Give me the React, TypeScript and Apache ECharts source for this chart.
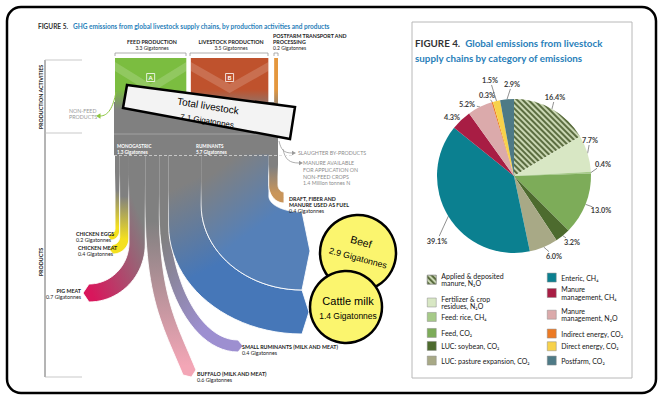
import React, { useEffect, useRef } from 'react';
import * as echarts from 'echarts';

// ---------------- data ----------------
const activityNames = ['FEED PRODUCTION', 'LIVESTOCK PRODUCTION', 'POSTFARM TRANSPORT AND PROCESSING'];
const activityValues = [3.3, 3.5, 0.2];
const groupNames = ['MONOGASTRIC', 'RUMINANTS'];
const groupValues = [1.3, 5.7];
const productNames = [
  'CHICKEN EGGS',
  'CHICKEN MEAT',
  'PIG MEAT',
  'BUFFALO (MILK AND MEAT)',
  'SMALL RUMINANTS (MILK AND MEAT)',
  'Cattle milk',
  'Beef',
  'DRAFT, FIBER AND MANURE USED AS FUEL',
];
const productValues = [0.2, 0.4, 0.7, 0.6, 0.4, 1.4, 2.9, 0.4];
const totalLivestock = 7.1;
const manureAvailableMtN = 1.4;

const categoryNames = [
  'Applied & deposited manure, N₂O',
  'Fertilizer & crop residues, N₂O',
  'Feed: rice, CH₄',
  'Feed, CO₂',
  'LUC: soybean, CO₂',
  'LUC: pasture expansion, CO₂',
  'Enteric, CH₄',
  'Manure management, CH₄',
  'Manure management, N₂O',
  'Indirect energy, CO₂',
  'Direct energy, CO₂',
  'Postfarm, CO₂',
];
const categoryShares = [16.4, 7.7, 0.4, 13.0, 3.2, 6.0, 39.1, 4.3, 5.2, 0.3, 1.5, 2.9];

// ---------------- styles / layout ----------------
const F = 'Lato, "Open Sans", "DejaVu Sans", sans-serif';
const A = '"Liberation Sans", Arial, sans-serif';
const GRAY = '#808080';
const BLUE_T = '#2a7fba';
const PIE_C = [514, 176];
const PIE_R = 77;

const categoryColors = ['#c9d6b2', '#d8e7c4', '#a6ca88', '#7dac59', '#4d6b2e', '#a8a986', '#0b8090', '#a81d44', '#dbaaab', '#ec7a24', '#f7d24b', '#4e7a86'];
const legendBreaks: Record<string, string> = {
  'Applied & deposited manure, N₂O': 'Applied & deposited\nmanure, N₂O',
  'Fertilizer & crop residues, N₂O': 'Fertilizer & crop\nresidues, N₂O',
  'Manure management, CH₄': 'Manure\nmanagement, CH₄',
  'Manure management, N₂O': 'Manure\nmanagement, N₂O',
};
const legendPos = [
  [427, 272.2], [427, 295], [427, 312.2], [427, 328.2], [427, 341.2], [427, 355.8],
  [547, 272.8], [547, 285.5], [547, 307.2], [547, 328.8], [547, 341.5], [547, 355.8],
];
// pie label centres (layout)
const pieLabelPos = [
  [555, 97], [590, 140], [603, 164], [601, 210], [572, 242], [554, 256],
  [437, 241], [452, 117], [467, 104], [487, 95], [490, 80], [512, 84],
];

const activityStyle = [
  { color: '#7bbd40', letter: 'A', inset: [0, 5.5] },
  { color: '#bf522d', letter: 'B', inset: [-1, 5] },
  { color: '#e4973e', letter: '', inset: [0.8, 0] },
];

// band geometry: edge a (left) / edge b (right): [y where curve starts, end x, end y]
const bandShape = [
  { a: [229, 111, 233.5], b: [230, 111, 240], t: [-1, 0], tip: 3, color: '#f4e01e', g: [0, 0, 0, 1], s: 0.42, e: 0.85 },
  { a: [237, 113, 244.5], b: [238, 113, 254], t: [-1, 0], tip: 4, color: '#f4e01e', g: [0, 0, 0, 1], s: 0.42, e: 0.85 },
  { a: [243, 89, 284], b: [244, 89, 302], t: [-1, 0], tip: 6, color: '#d8175c', g: [1, 0, 0, 1], s: 0.25, e: 0.9 },
  { a: [205, 183, 375], b: [205, 196, 370], t: [0.38, 0.92], tip: 5, color: '#f3a6b6', g: [0, 0, 0, 1], s: 0.3, e: 0.95 },
  { a: [215, 238, 352], b: [205, 238, 340], t: [1, 0], tip: 5, color: '#9d8fd0', g: [0, 0, 0.5, 1], s: 0.35, e: 0.92 },
  { a: [225, 302, 334], b: [205, 302, 290], t: [1, 0], tip: 7, color: '#4677b8', g: [0, 0, 0.4, 1], s: 0.18, e: 0.65 },
  { a: [205, 302, 290], b: [196, 302, 212], t: [1, 0], tip: 8, color: '#5580b8', g: [0, 0, 0.6, 1], s: 0.15, e: 0.62 },
  { a: [185, 284, 203], b: [185, 284, 192], t: [1, 0], tip: 0, color: '#c9955a', g: [0, 0, 0, 1], s: 0.25, e: 0.8 },
];

function edge(e: number, top: number, spec: number[], t: number[]) {
  const [yc, ex, ey] = spec;
  const k = 0.55;
  const p0 = [e, yc];
  const p1 = [e, yc + k * (ey - yc)];
  const l2 = (k * Math.abs(ex - e)) / Math.max(Math.abs(t[0]), 0.35);
  const p2 = [ex - t[0] * l2, ey - t[1] * l2];
  const p3 = [ex, ey];
  const pts: number[][] = [[e, top]];
  const n = 24;
  for (let i = 0; i <= n; i++) {
    const s = i / n;
    const m = 1 - s;
    const c0 = m * m * m, c1 = 3 * m * m * s, c2 = 3 * m * s * s, c3 = s * s * s;
    pts.push([
      c0 * p0[0] + c1 * p1[0] + c2 * p2[0] + c3 * p3[0],
      c0 * p0[1] + c1 * p1[1] + c2 * p2[1] + c3 * p3[1],
    ]);
  }
  return pts;
}

function cumulative(vals: number[]) {
  const out: number[] = [];
  let c = 0;
  vals.forEach((v) => {
    out.push(c);
    c += v;
  });
  return out;
}

function txt(text: string, x: number, y: number, o: any = {}) {
  return {
    type: 'text',
    x,
    y,
    z: o.z ?? 50,
    rotation: o.rot ?? 0,
    silent: true,
    style: {
      text,
      fontSize: o.size ?? 5.5,
      fontWeight: o.bold ? 'bold' : 'normal',
      fill: o.color ?? '#222',
      align: o.align ?? 'left',
      verticalAlign: o.va ?? 'middle',
      fontFamily: o.font ?? F,
      lineHeight: o.lh ?? 6.3,
      rich: o.rich,
    },
  };
}

function productLabel(i: number, x: number, y: number, align = 'left', display?: string) {
  const name = (display ?? productNames[i]).split('\n').map((l) => `{b|${l}}`).join('\n');
  return txt(`${name}\n{n|${productValues[i].toFixed(1)} Gigatonnes}`, x, y - 3, {
    align,
    va: 'top',
    rich: {
      b: { fontWeight: 'bold', fontSize: 5.3, lineHeight: 6, fill: '#222', fontFamily: F },
      n: { fontSize: 5.3, lineHeight: 6, fill: '#222', fontFamily: F },
    },
  });
}

function buildOption() {
  const total = productValues.reduce((a, b) => a + b, 0);
  const actCum = cumulative(activityValues);
  const prodCum = cumulative(productValues);
  const shareTotal = categoryShares.reduce((a, b) => a + b, 0);
  const shareCum = cumulative(categoryShares);

  const activityData = [[0, total, -1], ...activityValues.map((v, i) => [actCum[i], actCum[i] + v, i])];
  const productData = productValues.map((v, i) => [prodCum[i], prodCum[i] + v, i]);

  const activitySeries = {
    type: 'custom',
    coordinateSystem: 'cartesian2d',
    clip: false,
    silent: true,
    z: 2,
    data: activityData,
    renderItem: (params: any, api: any) => {
      const i = api.value(2);
      const x0 = api.coord([api.value(0), 0])[0];
      const x1 = api.coord([api.value(1), 0])[0];
      if (i < 0) {
        return { type: 'rect', shape: { x: x0 - 1, y: 102, width: x1 - x0 + 1, height: 53 }, style: { fill: GRAY } };
      }
      const st = activityStyle[i];
      const L = x0 + st.inset[0];
      const R = x1 - st.inset[1];
      const C = (L + R) / 2;
      const children: any[] = [
        {
          type: 'rect',
          shape: { x: L, y: 58, width: R - L, height: 52 },
          style: {
            fill: new echarts.graphic.LinearGradient(0, 0, 0, 1, [
              { offset: 0, color: st.color },
              { offset: 0.6, color: st.color },
              { offset: 1, color: GRAY },
            ]),
          },
        },
      ];
      if (st.letter) {
        children.push({
          type: 'polygon',
          shape: { points: [[L, 62], [C, 84], [R, 62], [R, 71], [C, 93], [L, 71]] },
          style: { fill: 'rgba(255,255,255,0.17)' },
        });
        children.push({ type: 'rect', shape: { x: C - 4, y: 73.5, width: 8, height: 8 }, style: { fill: 'none', stroke: '#fff', lineWidth: 0.8 } });
        children.push({
          type: 'text',
          x: C,
          y: 77.8,
          style: { text: st.letter, fontSize: 6, fontWeight: 'bold', fill: '#fff', align: 'center', verticalAlign: 'middle', fontFamily: F },
        });
      }
      return { type: 'group', children };
    },
  };

  const productSeries = {
    type: 'custom',
    coordinateSystem: 'cartesian2d',
    clip: false,
    silent: true,
    z: 3,
    data: productData,
    renderItem: (params: any, api: any) => {
      const i = api.value(2);
      const xa = api.coord([api.value(0), 0])[0];
      const xb = api.coord([api.value(1), 0])[0];
      const sh = bandShape[i];
      const top = 154.5;
      const ea = edge(xa, top, sh.a, sh.t);
      const eb = edge(xb, top, sh.b, sh.t);
      const endA = ea[ea.length - 1];
      const endB = eb[eb.length - 1];
      const tip = [(endA[0] + endB[0]) / 2 + sh.t[0] * sh.tip, (endA[1] + endB[1]) / 2 + sh.t[1] * sh.tip];
      const pts = [...ea, tip, ...eb.reverse()];
      return {
        type: 'polygon',
        shape: { points: pts },
        style: {
          fill: new echarts.graphic.LinearGradient(sh.g[0], sh.g[1], sh.g[2], sh.g[3], [
            { offset: 0, color: GRAY },
            { offset: sh.s, color: GRAY },
            { offset: sh.e, color: sh.color },
            { offset: 1, color: sh.color },
          ]),
          stroke: new echarts.graphic.LinearGradient(0, 0, 0, 1, [
            { offset: 0, color: 'rgba(255,255,255,0)' },
            { offset: 0.2, color: 'rgba(255,255,255,0)' },
            { offset: 0.45, color: 'rgba(255,255,255,1)' },
            { offset: 1, color: 'rgba(255,255,255,1)' },
          ]),
          lineWidth: 0.9,
        },
      };
    },
  };

  const pieSeries = {
    type: 'pie',
    center: PIE_C,
    radius: PIE_R,
    startAngle: 90,
    clockwise: true,
    avoidLabelOverlap: false,
    emphasis: { disabled: true },
    data: categoryNames.map((n, i) => ({
      name: n,
      value: categoryShares[i],
      itemStyle:
        i === 0
          ? {
              color: categoryColors[i],
              decal: {
                symbol: 'rect',
                symbolSize: 1,
                dashArrayX: [1, 0],
                dashArrayY: [1.6, 1.8],
                rotation: Math.PI / 4,
                color: '#5b6d40',
              },
            }
          : { color: categoryColors[i] },
    })),
    label: {
      show: true,
      formatter: (p: any) => `${Number(p.value).toFixed(1)}%`,
      fontSize: 7.3,
      fontWeight: 'bold',
      color: '#3c3c3c',
      fontFamily: F,
    },
    labelLine: { show: true, length: 8, length2: 2, lineStyle: { color: '#444', width: 0.6 } },
    labelLayout: (params: any) => {
      const i = params.dataIndex;
      const [lx, ly] = pieLabelPos[i];
      const f = ((shareCum[i] + categoryShares[i] / 2) / shareTotal) * Math.PI * 2;
      const p0 = [PIE_C[0] + PIE_R * Math.sin(f), PIE_C[1] - PIE_R * Math.cos(f)];
      const dx = p0[0] - lx;
      const dy = p0[1] - ly;
      const d = Math.hypot(dx, dy) || 1;
      const ux = dx / d;
      const uy = dy / d;
      const off = 1 / Math.sqrt((ux / 11) ** 2 + (uy / 5) ** 2);
      const p2 = [lx + ux * Math.min(off, d), ly + uy * Math.min(off, d)];
      const mid = [(p0[0] + p2[0]) / 2, (p0[1] + p2[1]) / 2];
      return {
        x: lx,
        y: ly,
        align: 'center',
        verticalAlign: 'middle',
        labelLinePoints: [p0, mid, p2],
      };
    },
  };

  const legends = categoryNames.map((n, i) => ({
    data: [n],
    left: legendPos[i][0],
    top: legendPos[i][1],
    orient: 'vertical',
    padding: 0,
    itemGap: 0,
    itemWidth: 9,
    itemHeight: 9,
    icon: 'rect',
    selectedMode: false,
    formatter: (name: string) => legendBreaks[name] ?? name,
    itemStyle: { borderColor: '#8a8a8a', borderWidth: 0.5 },
    textStyle: { fontSize: 7, lineHeight: 7.5, color: '#151515', fontFamily: F },
  }));

  const graphic: any[] = [
    // outer frame
    { type: 'rect', z: 300, silent: true, shape: { x: 7, y: 7, width: 649, height: 386, r: 14 }, style: { fill: 'none', stroke: '#000', lineWidth: 2.5 } },
    // figure 4 box
    { type: 'rect', z: 1, silent: true, shape: { x: 412, y: 22, width: 220, height: 356 }, style: { fill: 'none', stroke: '#b8b8b8', lineWidth: 1 } },
    // left axis
    { type: 'line', z: 1, silent: true, shape: { x1: 45, y1: 60, x2: 45, y2: 377 }, style: { stroke: '#444', lineWidth: 0.8 } },
    { type: 'line', z: 1, silent: true, shape: { x1: 45, y1: 60, x2: 82, y2: 60 }, style: { stroke: '#bbb', lineWidth: 0.8 } },
    { type: 'line', z: 1, silent: true, shape: { x1: 45, y1: 133, x2: 82, y2: 133 }, style: { stroke: '#bbb', lineWidth: 0.8 } },
    { type: 'line', z: 1, silent: true, shape: { x1: 45, y1: 377, x2: 82, y2: 377 }, style: { stroke: '#bbb', lineWidth: 0.8 } },
    txt('PRODUCTION ACTIVITIES', 41, 97, { rot: Math.PI / 2, bold: true, align: 'center', size: 5.3 }),
    txt('PRODUCTS', 41, 262, { rot: Math.PI / 2, bold: true, align: 'center', size: 5.3 }),
    // headers
    txt(activityNames[0], 152, 42, { bold: true, align: 'center', size: 5.3 }),
    txt(`${activityValues[0]} Gigatonnes`, 152, 48, { align: 'center', size: 5 }),
    txt(activityNames[1], 231, 42, { bold: true, align: 'center', size: 5.3 }),
    txt(`${activityValues[1]} Gigatonnes`, 231, 48, { align: 'center', size: 5 }),
    txt('POSTFARM TRANSPORT AND\nPROCESSING', 273, 33, { bold: true, va: 'top', size: 5.3, lh: 6 }),
    txt(`${activityValues[2]} Gigatonnes`, 273, 48, { size: 5 }),
    { type: 'polyline', z: 1, silent: true, shape: { points: [[115, 56], [115, 53], [186, 53], [186, 56]] }, style: { stroke: '#999', lineWidth: 0.8, fill: 'none' } },
    { type: 'polyline', z: 1, silent: true, shape: { points: [[190, 56], [190, 53], [268, 53], [268, 56]] }, style: { stroke: '#999', lineWidth: 0.8, fill: 'none' } },
    { type: 'polyline', z: 1, silent: true, shape: { points: [[274, 56], [274, 53], [278, 53], [278, 56]] }, style: { stroke: '#999', lineWidth: 0.8, fill: 'none' } },
    // non-feed arrow
    { type: 'bezierCurve', z: 5, silent: true, shape: { x1: 116, y1: 92, cpx1: 113, cpy1: 108, cpx2: 108, cpy2: 116, x2: 100, y2: 116 }, style: { stroke: '#8dc63f', lineWidth: 1, fill: 'none' } },
    { type: 'polygon', z: 5, silent: true, shape: { points: [[96, 116], [100.5, 113.3], [100.5, 118.7]] }, style: { fill: '#8dc63f' } },
    txt('NON-FEED\nPRODUCTS', 69, 114, { color: '#999', size: 5.3, lh: 6 }),
    // separation lines in gray
    { type: 'line', z: 50, silent: true, shape: { x1: 114, y1: 134, x2: 278, y2: 134 }, style: { stroke: '#a9a9a9', lineWidth: 0.8 } },
    { type: 'line', z: 50, silent: true, shape: { x1: 114, y1: 155.5, x2: 292, y2: 155.5 }, style: { stroke: '#d9d9d9', lineWidth: 0.8, lineDash: [3, 2] } },
    txt(`${groupNames[0]}\n${groupValues[0]} Gigatonnes`, 117, 142.5, { color: '#fff', va: 'top', size: 4.6, lh: 6, bold: true }),
    txt(`${groupNames[1]}\n${groupValues[1]} Gigatonnes`, 196, 142.5, { color: '#fff', va: 'top', size: 4.6, lh: 6, bold: true }),
    // by-product arrows
    { type: 'bezierCurve', z: 5, silent: true, shape: { x1: 279, y1: 141, cpx1: 281, cpy1: 150, cpx2: 284, cpy2: 153, x2: 292, y2: 153 }, style: { stroke: '#9a9a9a', lineWidth: 0.8, fill: 'none' } },
    { type: 'polygon', z: 5, silent: true, shape: { points: [[296, 153], [292, 150.8], [292, 155.2]] }, style: { fill: '#9a9a9a' } },
    { type: 'bezierCurve', z: 5, silent: true, shape: { x1: 283, y1: 149, cpx1: 285, cpy1: 160, cpx2: 290, cpy2: 163, x2: 299, y2: 163 }, style: { stroke: '#9a9a9a', lineWidth: 0.8, fill: 'none' } },
    { type: 'polygon', z: 5, silent: true, shape: { points: [[303, 163], [299, 160.8], [299, 165.2]] }, style: { fill: '#9a9a9a' } },
    txt('SLAUGHTER BY-PRODUCTS', 298, 153, { color: '#8c8c8c', size: 5.3 }),
    txt(`MANURE AVAILABLE\nFOR APPLICATION ON\nNON-FEED CROPS\n${manureAvailableMtN} Million tonnes N`, 303, 160, { color: '#8c8c8c', size: 5.3, va: 'top', lh: 6.7 }),
    // product labels
    productLabel(0, 76, 234),
    productLabel(1, 78, 248),
    productLabel(2, 81, 291, 'right'),
    productLabel(3, 197, 374),
    productLabel(4, 242, 347),
    productLabel(7, 289, 199, 'left', 'DRAFT, FIBER AND\nMANURE USED AS FUEL'),
    // total livestock box
    { type: 'polygon', z: 100, silent: true, shape: { points: [[127, 85], [295, 107], [290, 139], [123, 108]] }, style: { fill: '#f3f3f3', stroke: '#000', lineWidth: 2.5, lineJoin: 'miter' } },
    txt('Total livestock', 208, 106, { z: 101, rot: -0.16, size: 10, font: A, color: '#000', align: 'center' }),
    txt(`${totalLivestock} Gigatonnes`, 207, 121, { z: 101, rot: -0.16, size: 8, font: A, color: '#000', align: 'center' }),
    // beef circle
    { type: 'circle', z: 102, silent: true, shape: { cx: 358, cy: 253, r: 38 }, style: { fill: '#fbf56e', stroke: '#000', lineWidth: 2.5 } },
    txt(productNames[6], 361, 242, { z: 103, rot: -0.26, size: 10.5, font: A, color: '#000', align: 'center' }),
    txt(`${productValues[6]} Gigatonnes`, 358, 258, { z: 103, rot: -0.26, size: 8.8, font: A, color: '#000', align: 'center' }),
    // cattle milk circle
    { type: 'circle', z: 104, silent: true, shape: { cx: 346, cy: 307, r: 36 }, style: { fill: '#fbf56e', stroke: '#000', lineWidth: 2.5 } },
    txt(productNames[5], 348, 301, { z: 105, size: 11, font: A, color: '#000', align: 'center' }),
    txt(`${productValues[5]} Gigatonnes`, 348, 316, { z: 105, size: 8.5, font: A, color: '#000', align: 'center' }),
  ];

  return {
    animation: false,
    backgroundColor: '#ffffff',
    title: [
      {
        left: 38,
        top: 17,
        padding: 0,
        text: '{a|FIGURE 5.} {b|GHG emissions from global livestock supply chains, by production activities and products}',
        textStyle: {
          rich: {
            a: { fontSize: 6.5, fontWeight: 'bold', color: '#333', fontFamily: F },
            b: { fontSize: 6.5, color: BLUE_T, fontFamily: F },
          },
        },
      },
      {
        left: 415,
        top: 34,
        padding: 0,
        text: '{a|FIGURE 4.} {b|Global emissions from livestock}\n{b|supply chains by category of emissions}',
        textStyle: {
          rich: {
            a: { fontSize: 9.8, fontWeight: 'bold', color: '#333', fontFamily: F, lineHeight: 11 },
            b: { fontSize: 9.8, color: BLUE_T, fontFamily: F, lineHeight: 11 },
          },
        },
      },
    ],
    grid: { left: 115, width: 163, top: 0, height: 402 },
    xAxis: { type: 'value', min: 0, max: total, show: false },
    yAxis: { type: 'value', min: 0, max: 402, inverse: true, show: false },
    legend: legends,
    series: [activitySeries, productSeries, pieSeries],
    graphic,
  };
}

export default function App() {
  const ref = useRef<HTMLDivElement>(null);
  useEffect(() => {
    if (!ref.current) return;
    const chart = echarts.init(ref.current, null, { renderer: 'svg' });
    chart.setOption(buildOption() as any);
    return () => chart.dispose();
  }, []);
  return <div ref={ref} style={{ position: 'fixed', left: 0, top: 0, width: 662, height: 402, background: '#fff' }} />;
}
